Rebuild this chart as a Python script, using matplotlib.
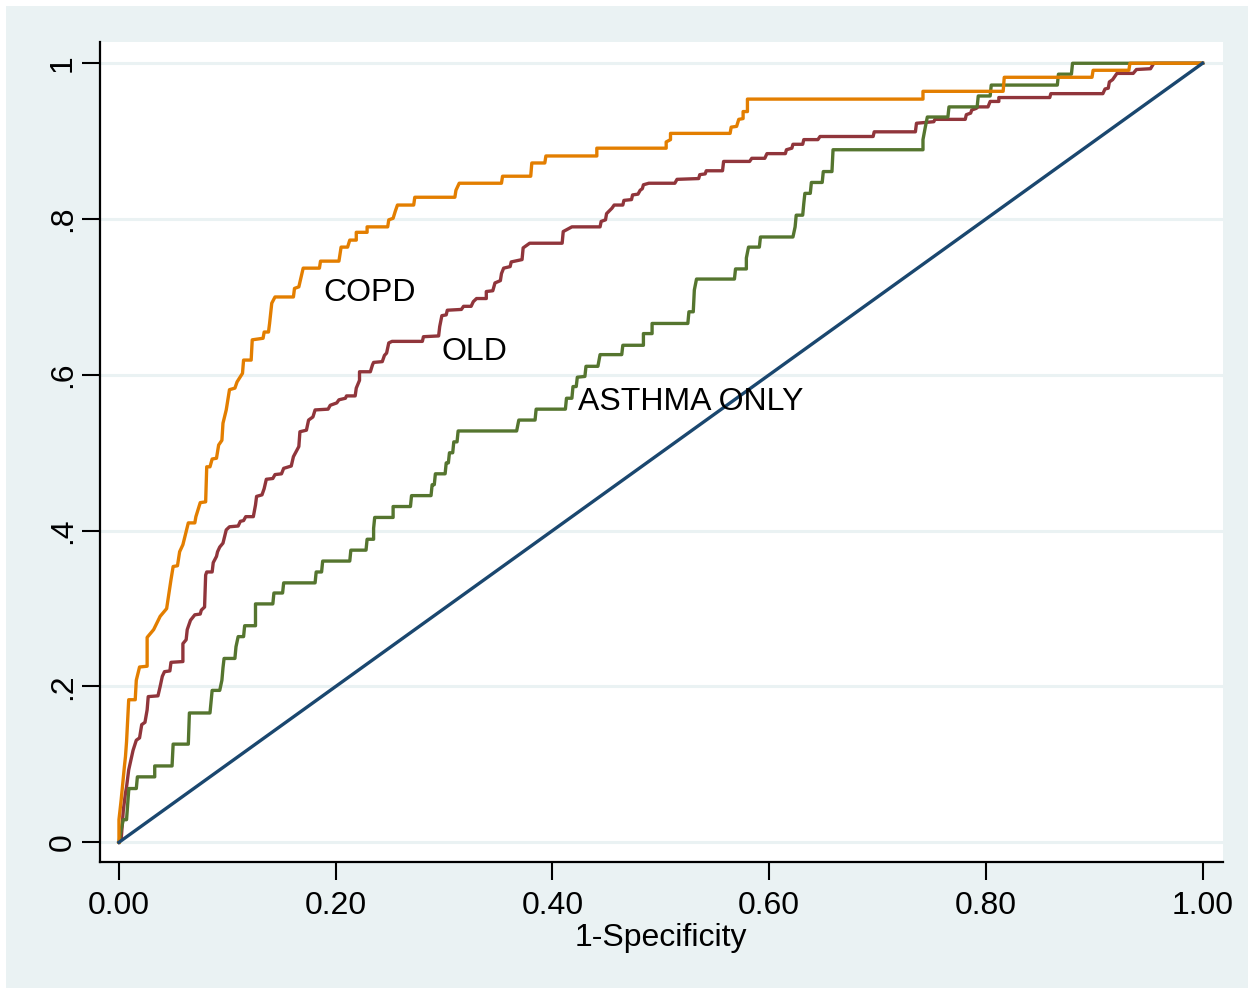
import matplotlib
matplotlib.use("Agg")
import matplotlib.pyplot as plt
from matplotlib.patches import Rectangle

# ROC-Kurven (1-Spezifitaet, Sensitivitaet)
copd_x = [0.000, 0.000, 0.002, 0.005, 0.006, 0.007, 0.009, 0.015, 0.016, 0.019,
          0.026, 0.026, 0.032, 0.038, 0.044, 0.048, 0.050, 0.054, 0.056, 0.059,
          0.064, 0.070, 0.071, 0.075, 0.080, 0.081, 0.084, 0.086, 0.090, 0.092,
          0.095, 0.096, 0.099, 0.102, 0.107, 0.109, 0.114, 0.115, 0.122, 0.123,
          0.133, 0.134, 0.138, 0.139, 0.141, 0.144, 0.161, 0.162, 0.166, 0.169,
          0.170, 0.185, 0.186, 0.203, 0.205, 0.211, 0.213, 0.219, 0.219, 0.229,
          0.229, 0.248, 0.249, 0.253, 0.255, 0.257, 0.272, 0.273, 0.310, 0.311,
          0.314, 0.353, 0.354, 0.380, 0.381, 0.393, 0.394, 0.441, 0.441, 0.505,
          0.505, 0.509, 0.509, 0.564, 0.565, 0.570, 0.572, 0.576, 0.576, 0.580,
          0.580, 0.742, 0.742, 0.816, 0.817, 0.898, 0.899, 0.932, 0.933, 1.000]
copd_y = [0.000, 0.029, 0.054, 0.097, 0.110, 0.129, 0.183, 0.183, 0.208, 0.225,
          0.226, 0.263, 0.273, 0.290, 0.300, 0.337, 0.354, 0.355, 0.373, 0.382,
          0.410, 0.410, 0.418, 0.436, 0.437, 0.482, 0.482, 0.492, 0.493, 0.510,
          0.516, 0.538, 0.555, 0.581, 0.583, 0.591, 0.602, 0.619, 0.619, 0.645,
          0.647, 0.655, 0.655, 0.666, 0.692, 0.700, 0.700, 0.711, 0.713, 0.731,
          0.737, 0.737, 0.746, 0.746, 0.764, 0.764, 0.773, 0.773, 0.783, 0.783,
          0.790, 0.790, 0.799, 0.801, 0.810, 0.818, 0.818, 0.828, 0.828, 0.837,
          0.846, 0.846, 0.855, 0.855, 0.872, 0.872, 0.881, 0.881, 0.891, 0.891,
          0.899, 0.902, 0.910, 0.910, 0.918, 0.919, 0.928, 0.929, 0.938, 0.938,
          0.954, 0.954, 0.964, 0.964, 0.982, 0.982, 0.991, 0.991, 1.000, 1.000]

old_x = [0.000, 0.002, 0.004, 0.006, 0.007, 0.009, 0.013, 0.016, 0.019, 0.021,
         0.024, 0.026, 0.027, 0.036, 0.038, 0.040, 0.042, 0.047, 0.048, 0.059,
         0.059, 0.062, 0.063, 0.066, 0.070, 0.075, 0.076, 0.079, 0.080, 0.081,
         0.086, 0.087, 0.090, 0.091, 0.093, 0.096, 0.099, 0.102, 0.110, 0.112,
         0.115, 0.117, 0.124, 0.126, 0.127, 0.132, 0.134, 0.136, 0.142, 0.144,
         0.150, 0.152, 0.159, 0.161, 0.166, 0.167, 0.173, 0.175, 0.179, 0.181,
         0.193, 0.195, 0.201, 0.203, 0.209, 0.210, 0.218, 0.219, 0.222, 0.222,
         0.232, 0.234, 0.235, 0.243, 0.245, 0.247, 0.249, 0.252, 0.280, 0.281,
         0.295, 0.296, 0.298, 0.302, 0.303, 0.316, 0.318, 0.325, 0.327, 0.330,
         0.339, 0.339, 0.345, 0.347, 0.352, 0.353, 0.355, 0.361, 0.362, 0.372,
         0.373, 0.379, 0.409, 0.410, 0.418, 0.444, 0.445, 0.449, 0.450, 0.455,
         0.457, 0.465, 0.466, 0.473, 0.474, 0.479, 0.481, 0.483, 0.484, 0.489,
         0.513, 0.515, 0.535, 0.536, 0.541, 0.542, 0.557, 0.558, 0.582, 0.584,
         0.596, 0.598, 0.615, 0.616, 0.621, 0.622, 0.631, 0.632, 0.645, 0.647,
         0.696, 0.697, 0.735, 0.736, 0.752, 0.753, 0.781, 0.782, 0.786, 0.787,
         0.791, 0.793, 0.802, 0.804, 0.812, 0.812, 0.859, 0.860, 0.908, 0.910,
         0.913, 0.914, 0.917, 0.921, 0.936, 0.939, 0.952, 0.955, 1.000]
old_y = [0.000, 0.003, 0.041, 0.063, 0.071, 0.093, 0.118, 0.131, 0.134, 0.151,
         0.154, 0.170, 0.187, 0.188, 0.200, 0.213, 0.219, 0.220, 0.231, 0.232,
         0.255, 0.260, 0.273, 0.285, 0.292, 0.293, 0.298, 0.302, 0.343, 0.347,
         0.347, 0.359, 0.367, 0.373, 0.379, 0.384, 0.401, 0.405, 0.406, 0.412,
         0.413, 0.418, 0.418, 0.433, 0.444, 0.446, 0.454, 0.466, 0.467, 0.472,
         0.473, 0.480, 0.483, 0.495, 0.508, 0.527, 0.529, 0.542, 0.546, 0.555,
         0.556, 0.561, 0.564, 0.568, 0.570, 0.573, 0.573, 0.583, 0.593, 0.604,
         0.604, 0.613, 0.616, 0.617, 0.625, 0.628, 0.641, 0.643, 0.643, 0.649,
         0.650, 0.662, 0.676, 0.677, 0.683, 0.684, 0.688, 0.688, 0.694, 0.698,
         0.698, 0.707, 0.708, 0.718, 0.721, 0.730, 0.737, 0.739, 0.745, 0.748,
         0.763, 0.769, 0.769, 0.784, 0.790, 0.790, 0.797, 0.799, 0.807, 0.814,
         0.818, 0.818, 0.824, 0.825, 0.831, 0.832, 0.837, 0.839, 0.844, 0.846,
         0.846, 0.851, 0.852, 0.857, 0.858, 0.862, 0.862, 0.874, 0.874, 0.878,
         0.878, 0.884, 0.884, 0.889, 0.891, 0.896, 0.896, 0.902, 0.902, 0.906,
         0.906, 0.912, 0.912, 0.923, 0.925, 0.928, 0.928, 0.934, 0.936, 0.940,
         0.942, 0.944, 0.944, 0.951, 0.951, 0.956, 0.956, 0.961, 0.961, 0.967,
         0.968, 0.976, 0.979, 0.987, 0.987, 0.992, 0.993, 1.000, 1.000]

asthma_x = [0.000, 0.002, 0.004, 0.007, 0.009, 0.009, 0.016, 0.017, 0.033, 0.033,
            0.049, 0.050, 0.064, 0.065, 0.084, 0.086, 0.093, 0.095, 0.096, 0.097,
            0.107, 0.108, 0.110, 0.115, 0.116, 0.126, 0.126, 0.142, 0.143, 0.151,
            0.152, 0.181, 0.182, 0.187, 0.188, 0.213, 0.214, 0.228, 0.229, 0.235,
            0.235, 0.236, 0.253, 0.253, 0.269, 0.270, 0.288, 0.289, 0.291, 0.292,
            0.301, 0.302, 0.304, 0.305, 0.308, 0.309, 0.312, 0.313, 0.367, 0.369,
            0.384, 0.385, 0.412, 0.413, 0.418, 0.419, 0.422, 0.423, 0.430, 0.431,
            0.442, 0.444, 0.464, 0.465, 0.484, 0.484, 0.492, 0.492, 0.525, 0.526,
            0.530, 0.531, 0.533, 0.568, 0.569, 0.579, 0.579, 0.581, 0.591, 0.592,
            0.622, 0.624, 0.625, 0.631, 0.632, 0.633, 0.638, 0.639, 0.649, 0.650,
            0.658, 0.659, 0.742, 0.742, 0.744, 0.746, 0.765, 0.766, 0.792, 0.793,
            0.804, 0.805, 0.866, 0.867, 0.879, 0.880, 1.000]
asthma_y = [0.000, 0.016, 0.029, 0.029, 0.067, 0.069, 0.069, 0.084, 0.084, 0.098,
            0.098, 0.126, 0.126, 0.166, 0.166, 0.195, 0.195, 0.208, 0.224, 0.236,
            0.236, 0.251, 0.264, 0.264, 0.278, 0.278, 0.306, 0.306, 0.320, 0.320,
            0.333, 0.333, 0.347, 0.347, 0.361, 0.361, 0.375, 0.375, 0.389, 0.389,
            0.403, 0.417, 0.417, 0.431, 0.431, 0.445, 0.445, 0.459, 0.459, 0.473,
            0.473, 0.487, 0.487, 0.500, 0.500, 0.514, 0.514, 0.528, 0.528, 0.542,
            0.542, 0.556, 0.556, 0.570, 0.570, 0.585, 0.585, 0.597, 0.598, 0.611,
            0.611, 0.626, 0.626, 0.638, 0.638, 0.653, 0.653, 0.666, 0.666, 0.681,
            0.681, 0.709, 0.723, 0.723, 0.736, 0.736, 0.750, 0.764, 0.764, 0.777,
            0.777, 0.790, 0.805, 0.805, 0.820, 0.833, 0.833, 0.847, 0.847, 0.861,
            0.861, 0.889, 0.889, 0.902, 0.917, 0.931, 0.931, 0.944, 0.944, 0.958,
            0.958, 0.972, 0.972, 0.986, 0.986, 1.000, 1.000]

ref_x = [0.0, 1.0]
ref_y = [0.0, 1.0]

x_ticks = [0.0, 0.2, 0.4, 0.6, 0.8, 1.0]
x_ticklabels = ["0.00", "0.20", "0.40", "0.60", "0.80", "1.00"]
y_ticks = [0.0, 0.2, 0.4, 0.6, 0.8, 1.0]
y_ticklabels = ["0", ".2", ".4", ".6", ".8", "1"]

# Beschriftungen an den Kurven
labels = ["COPD", "OLD", "ASTHMA ONLY"]
label_x = [0.189, 0.298, 0.424]
label_y = [0.705, 0.629, 0.565]

# Stata s2color Farben
NAVY = "#1a476f"
MAROON = "#90353b"
GREEN = "#55752f"
ORANGE = "#e37e00"
BG = "#eaf2f3"

plt.rcParams["font.family"] = ["Liberation Sans", "DejaVu Sans"]

fig = plt.figure(figsize=(12.53, 9.94), dpi=100)
fig.patch.set_facecolor("white")
fig.patches.append(Rectangle((6 / 1253, 6 / 994), 1242 / 1253, 982 / 994,
                             transform=fig.transFigure, facecolor=BG,
                             edgecolor="none", zorder=0))

ax = fig.add_axes([100 / 1253, 132 / 994, 1122.7 / 1253, 820 / 994])
ax.set_zorder(1)
ax.set_facecolor("white")

ax.plot(old_x, old_y, color=MAROON, lw=2.4, zorder=3)
ax.plot(asthma_x, asthma_y, color=GREEN, lw=2.4, zorder=4)
ax.plot(copd_x, copd_y, color=ORANGE, lw=2.4, zorder=5)
ax.plot(ref_x, ref_y, color=NAVY, lw=2.4, zorder=6)

for t, lx, ly in zip(labels, label_x, label_y):
    ax.text(lx, ly, t, fontsize=23, ha="left", va="center", color="black", zorder=7)

ax.set_xlim(-0.0175, 1.0186)
ax.set_ylim(-0.0253, 1.0273)

ax.set_xticks(x_ticks)
ax.set_xticklabels(x_ticklabels)
ax.set_yticks(y_ticks)
ax.set_yticklabels(y_ticklabels, rotation=90, va="center")
ax.tick_params(axis="both", labelsize=23, length=13, width=1.5, direction="out")
ax.tick_params(axis="x", pad=8)
ax.tick_params(axis="y", pad=3)

ax.yaxis.grid(True, color=BG, lw=2.2)
ax.xaxis.grid(False)
ax.set_axisbelow(True)

for side in ["top", "right"]:
    ax.spines[side].set_visible(False)
for side in ["left", "bottom"]:
    ax.spines[side].set_linewidth(1.6)
    ax.spines[side].set_color("black")

ax.set_xlabel("1-Specificity", fontsize=23, labelpad=1)

fig.savefig("out.png", dpi=100, facecolor=fig.get_facecolor())
